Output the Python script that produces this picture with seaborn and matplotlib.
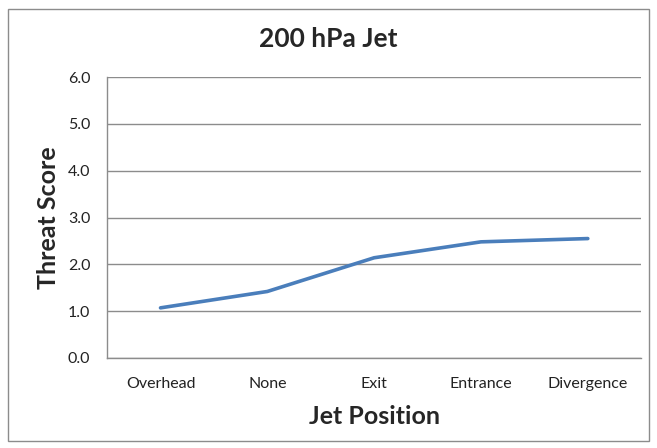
import pandas as pd
import matplotlib.pyplot as plt
import seaborn as sns
from matplotlib.patches import Rectangle

# Data
positions = ['Overhead', 'None', 'Exit', 'Entrance', 'Divergence']
threat = [1.07, 1.42, 2.14, 2.48, 2.55]

df = pd.DataFrame({'Jet Position': positions, 'Threat Score': threat})

sns.set_style('white')
plt.rcParams['font.family'] = ['Lato', 'DejaVu Sans']

fig = plt.figure(figsize=(6.57, 4.48), dpi=100)
ax = fig.add_axes([0.163, 0.201, 0.813, 0.627])

sns.lineplot(data=df, x='Jet Position', y='Threat Score', ax=ax,
             color='#4a7ebb', linewidth=2.6, sort=False)

ax.set_xlim(-0.5, len(positions) - 0.5)
ax.set_ylim(0, 6)
ax.set_yticks([0, 1, 2, 3, 4, 5, 6])
ax.set_yticklabels([f'{v:.1f}' for v in range(7)])
ax.set_xticks(range(len(positions)))
ax.set_xticklabels(positions)
ax.set_xticks([i - 0.5 for i in range(len(positions) + 1)], minor=True)
ax.tick_params(axis='x', which='major', length=0, pad=14, labelsize=11.5, colors='#222222')
ax.tick_params(axis='x', which='minor', length=5, color='#888888', direction='out')
ax.tick_params(axis='y', length=5, direction='out', labelsize=11.5, pad=7)
ax.tick_params(axis='y', colors='#888888', labelcolor='#222222')

ax.yaxis.grid(True, color='#8c8c8c', linewidth=1)
ax.set_axisbelow(True)
for s in ['top', 'right']:
    ax.spines[s].set_visible(False)
for s in ['left', 'bottom']:
    ax.spines[s].set_color('#8c8c8c')
    ax.spines[s].set_linewidth(1)

ax.set_xlabel('Jet Position', fontsize=18, fontweight='bold', labelpad=10)
ax.set_ylabel('Threat Score', fontsize=18, fontweight='bold', labelpad=6)
fig.text(0.5, 0.912, '200 hPa Jet', ha='center', va='center', fontsize=19, fontweight='bold')

# outer chart frame
fig.patches.append(Rectangle((0.012, 0.015), 0.976, 0.965, transform=fig.transFigure,
                             fill=False, edgecolor='#8c8c8c', linewidth=1))

plt.savefig('out.png', dpi=100)
